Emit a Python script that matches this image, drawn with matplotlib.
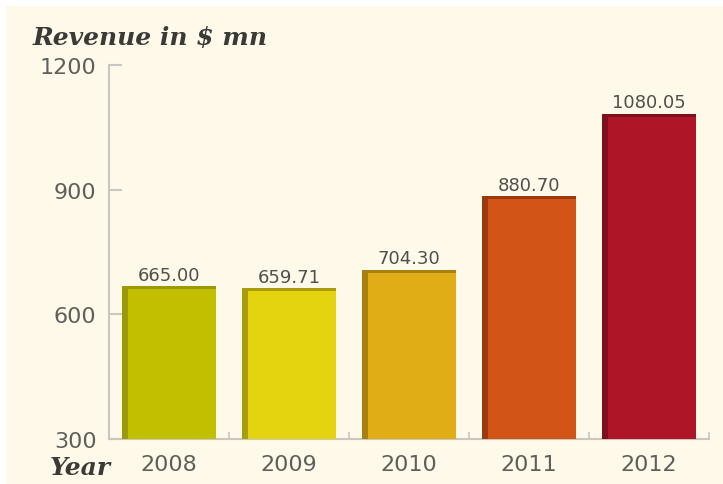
import numpy as np
import matplotlib
matplotlib.use("Agg")
import matplotlib.pyplot as plt
from matplotlib.patches import Rectangle

# データ
years = ["2008", "2009", "2010", "2011", "2012"]
revenue = [665.00, 659.71, 704.30, 880.70, 1080.05]
value_labels = ["665.00", "659.71", "704.30", "880.70", "1080.05"]
y_ticks = [300, 600, 900, 1200]

front_colors = ["#c1bf00", "#e4d30f", "#e0ad17", "#d35417", "#ae1527"]
dark_colors = ["#9b9a05", "#ab9c0c", "#a9800d", "#9c3a0f", "#7e0f1c"]

bg = "#fef9e9"
axis_gray = "#c9c7c0"
text_gray = "#5f5f5c"

fig = plt.figure(figsize=(7.23, 4.85), dpi=100)
fig.patch.set_facecolor("white")
fig.patches.append(Rectangle((6 / 723, 0), 1, 1 - 7 / 485, transform=fig.transFigure,
                             facecolor=bg, edgecolor="none", zorder=-10))

ax = fig.add_axes([109 / 723, 45 / 485, 600 / 723, 374 / 485])
ax.set_facecolor("none")
ax.set_zorder(5)

x = np.arange(len(years))
w = 0.78
d = 0.05
base = 300

# 前面
ax.bar(x + d / 2, np.array(revenue) - base, bottom=base, width=w - d,
       color=front_colors, zorder=3)
# 側面
ax.bar(x - w / 2 + d / 2, np.array(revenue) - base - 2, bottom=base, width=d,
       color=dark_colors, zorder=3)
# 上面
ax.bar(x, 7, bottom=np.array(revenue) - 4, width=w, color=dark_colors, zorder=4)

for xi, v, lab in zip(x, revenue, value_labels):
    ax.text(xi, v + 9, lab, ha="center", va="bottom", fontsize=13,
            color="#4f4f4d", family="DejaVu Sans")

ax.set_xlim(-0.5, len(years) - 0.5)
ax.set_ylim(300, 1200)
ax.set_yticks(y_ticks)
ax.set_yticklabels([str(t) for t in y_ticks])
ax.set_xticks(x + 0.5, minor=False)
ax.set_xticklabels([])
ax.set_xticks(x, minor=True)
ax.set_xticklabels(years, minor=True)

for s in ["top", "right"]:
    ax.spines[s].set_visible(False)
for s in ["left", "bottom"]:
    ax.spines[s].set_color(axis_gray)
    ax.spines[s].set_linewidth(1.5)

ax.tick_params(axis="y", direction="in", length=9, width=1.5, color=axis_gray,
               pad=9, labelsize=16, labelcolor=text_gray)
ax.tick_params(axis="x", which="major", direction="in", length=5, width=1.2,
               color=axis_gray)
ax.tick_params(axis="x", which="minor", length=0, pad=11, labelsize=16,
               labelcolor=text_gray)

fig.text(33 / 723, 1 - 45 / 485, "Revenue in $ mn", fontsize=18, style="italic",
         weight="bold", family="DejaVu Serif", color="#3a3a38",
         ha="left", va="baseline")
fig.text(50 / 723, 1 - 475 / 485, "Year", fontsize=18, style="italic",
         weight="bold", family="DejaVu Serif", color="#3a3a38",
         ha="left", va="baseline")

fig.savefig("out.png", dpi=100, facecolor=fig.get_facecolor())
